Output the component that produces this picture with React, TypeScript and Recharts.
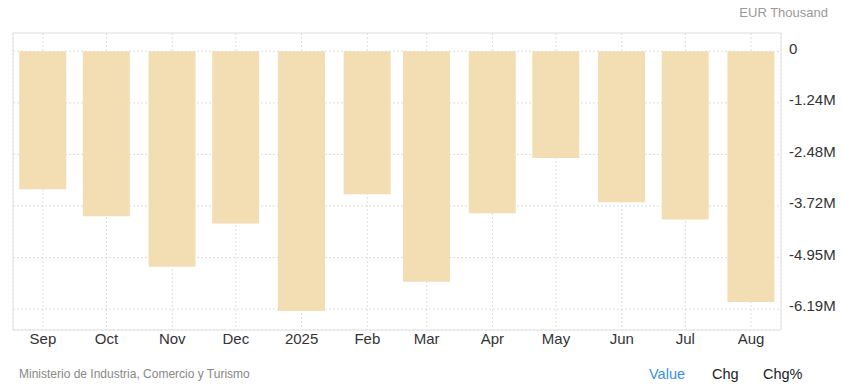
import React from "react";
import {
  BarChart,
  Bar,
  XAxis,
  YAxis,
  CartesianGrid,
  ReferenceLine,
} from "recharts";

const BAR = "#F3DDB3";
const GRID = "#dedede";
const AXIS = "#e2e2e2";
const TEXT = "#333333";
const FONT = "'Liberation Sans', Arial, sans-serif";

// month starts, Sep 2024 .. Aug 2025
const months: [number, number][] = [
  [2024, 8], [2024, 9], [2024, 10], [2024, 11], [2025, 0], [2025, 1],
  [2025, 2], [2025, 3], [2025, 4], [2025, 5], [2025, 6], [2025, 7],
];
const tickLabels = ["Sep", "Oct", "Nov", "Dec", "2025", "Feb", "Mar", "Apr", "May", "Jun", "Jul", "Aug"];
// EUR thousand
const values = [
  -3313000, -3965000, -5174000, -4135000, -6238000, -3433000,
  -5537000, -3893000, -2563000, -3627000, -4038000, -6021000,
];
const yTicks = [0, -1238500, -2477000, -3715500, -4954000, -6192500];

const times = months.map(([y, m]) => Date.UTC(y, m, 1));
const DAY = 86400000;
const xMin = times[0] - 14.1 * DAY;
const xMax = times[times.length - 1] + 14.1 * DAY;
const yMin = -6695000;
const yMax = 440000;

const data = times.map((t, i) => ({ t, value: values[i] }));
const labelOf = (t: number) => tickLabels[times.indexOf(t)] ?? "";
const fmtY = (v: number) => (v === 0 ? "0" : (v / 1e6).toFixed(2) + "M");

export default function App() {
  return (
    <div style={{ position: "absolute", left: 0, top: 0, width: 842, height: 390, background: "#fff", fontFamily: FONT }}>
      <div style={{ position: "absolute", right: 14, top: 5, fontSize: 13, color: "#999" }}>EUR Thousand</div>
      <BarChart
        width={842}
        height={360}
        data={data}
        margin={{ top: 33, right: 6, left: 13, bottom: 0 }}
      >
        <CartesianGrid stroke={GRID} strokeDasharray="2 2" />
        <XAxis
          dataKey="t"
          type="number"
          scale="linear"
          domain={[xMin, xMax]}
          allowDataOverflow
          ticks={times}
          tickFormatter={labelOf}
          tickLine={false}
          tickSize={0}
          tickMargin={3}
          axisLine={{ stroke: AXIS }}
          tick={{ fill: TEXT, fontSize: 15, fontFamily: FONT }}
          height={30}
        />
        <YAxis
          orientation="right"
          domain={[yMin, yMax]}
          allowDataOverflow
          ticks={yTicks}
          tickFormatter={fmtY}
          tickLine={false}
          axisLine={{ stroke: AXIS }}
          tick={{ fill: TEXT, fontSize: 15, fontFamily: FONT, dy: -3 }}
          width={55}
        />
        <ReferenceLine y={yMax} stroke={GRID} strokeDasharray="2 2" />
        <ReferenceLine x={xMin} stroke={AXIS} />
        <Bar dataKey="value" fill={BAR} barSize={47} isAnimationActive={false} />
      </BarChart>
      <div style={{ position: "absolute", left: 19, top: 367, fontSize: 12, color: "#888" }}>
        Ministerio de Industria, Comercio y Turismo
      </div>
      <div style={{ position: "absolute", left: 649, top: 366, fontSize: 14.5, color: "#3a8fe8" }}>Value</div>
      <div style={{ position: "absolute", left: 712, top: 366, fontSize: 14.5, color: "#222" }}>Chg</div>
      <div style={{ position: "absolute", left: 763, top: 366, fontSize: 14.5, color: "#222" }}>Chg%</div>
    </div>
  );
}
